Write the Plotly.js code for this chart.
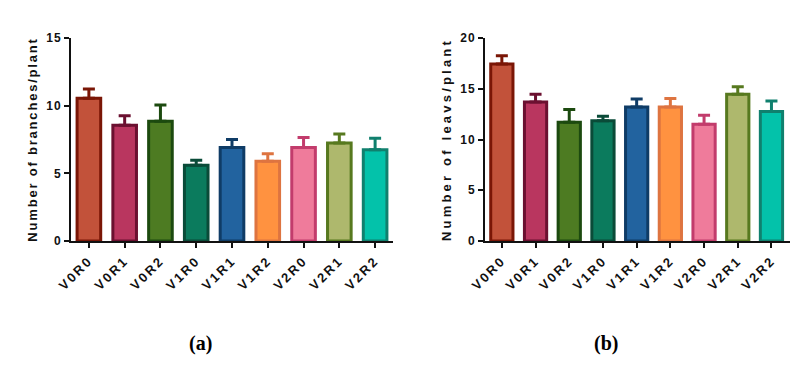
<!DOCTYPE html>
<html>
<head>
<meta charset="utf-8">
<script src="https://cdn.plot.ly/plotly-3.0.1.min.js"></script>
<style>
  html, body { margin: 0; padding: 0; background: #fff; }
  #chart { width: 807px; height: 370px; }
  .ytitle { letter-spacing: 1.8px; }
  .y2title { letter-spacing: 3.2px; }
  .xtick text, .x2tick text { letter-spacing: 2.2px; }
  .ytick text, .y2tick text { letter-spacing: 1px; }
</style>
</head>
<body>
<div id="chart"></div>
<script>
const categories = ["V0R0", "V0R1", "V0R2", "V1R0", "V1R1", "V1R2", "V2R0", "V2R1", "V2R2"];

const branchesMean = [10.55, 8.55, 8.85, 5.6, 6.9, 5.9, 6.9, 7.25, 6.75];
const branchesErr  = [0.68, 0.7, 1.2, 0.37, 0.6, 0.55, 0.75, 0.65, 0.85];

const leavesMean = [17.45, 13.7, 11.7, 11.85, 13.2, 13.2, 11.5, 14.45, 12.75];
const leavesErr  = [0.8, 0.75, 1.25, 0.45, 0.8, 0.85, 0.9, 0.75, 1.05];

const fillColors = ["#C2523A", "#B9365F", "#4D7B22", "#0B7B5D", "#22639F", "#FF9240", "#EF7B9B", "#AEB86D", "#03C2AA"];
const lineColors = ["#7A1606", "#6B1030", "#1C4A0F", "#0A4B38", "#0F3C66", "#DE7440", "#C23C6C", "#57791F", "#10806E"];

const traces = [];
function addSeries(means, errs, xa, ya) {
  categories.forEach((c, i) => {
    traces.push({
      type: "bar",
      x: [c],
      y: [means[i]],
      xaxis: xa,
      yaxis: ya,
      width: 0.66,
      marker: { color: fillColors[i], line: { color: lineColors[i], width: 3 } },
      error_y: {
        type: "data", symmetric: false,
        array: [errs[i]], arrayminus: [0],
        color: lineColors[i], thickness: 3, width: 6
      },
      showlegend: false,
      hoverinfo: "x+y"
    });
  });
}
addSeries(branchesMean, branchesErr, "x", "y");
addSeries(leavesMean, leavesErr, "x2", "y2");

const sans = "Liberation Sans, Arial, sans-serif";
const tickFont = { family: sans, size: 12, color: "#111", weight: 700 };
const xTickFont = { family: sans, size: 13, color: "#111", weight: 700 };
const titleFont = { family: sans, size: 13, color: "#111", weight: 700 };
const serifFont = { family: "'Liberation Serif', 'Times New Roman', serif", size: 20, color: "#000", weight: 700 };

const yTop = 1 - 38 / 370;
const yBot = 1 - 241 / 370;

const commonX = {
  type: "category",
  showline: true, linecolor: "#111", linewidth: 2,
  ticks: "outside", ticklen: 5, tickwidth: 2, tickcolor: "#111",
  tickangle: -45, tickfont: xTickFont,
  showgrid: false, zeroline: false, fixedrange: true,
  range: [-0.5, 8.5]
};
const commonY = {
  showline: true, linecolor: "#111", linewidth: 2,
  ticks: "outside", ticklen: 5, tickwidth: 2, tickcolor: "#111",
  tickfont: tickFont, dtick: 5,
  showgrid: false, zeroline: false, fixedrange: true
};

const layout = {
  width: 807, height: 370,
  margin: { l: 0, r: 0, t: 0, b: 0 },
  paper_bgcolor: "#fff", plot_bgcolor: "#fff",
  barmode: "overlay",
  xaxis: Object.assign({}, commonX, { domain: [71 / 807, 393 / 807], anchor: "y" }),
  yaxis: Object.assign({}, commonY, {
    domain: [yBot, yTop], anchor: "x", range: [0, 15],
    title: { text: "Number of branches/plant", font: titleFont, standoff: 6 }
  }),
  xaxis2: Object.assign({}, commonX, { domain: [485 / 807, 790 / 807], anchor: "y2", range: [-0.5, 8.55] }),
  yaxis2: Object.assign({}, commonY, {
    domain: [yBot, yTop], anchor: "x2", range: [0, 20],
    title: { text: "Number of leavs/plant", font: titleFont, standoff: 6 }
  }),
  annotations: [
    { text: "(a)", x: 200 / 807, y: 1 - 343 / 370, xref: "paper", yref: "paper",
      showarrow: false, xanchor: "center", yanchor: "middle", font: serifFont },
    { text: "(b)", x: 606 / 807, y: 1 - 343 / 370, xref: "paper", yref: "paper",
      showarrow: false, xanchor: "center", yanchor: "middle", font: serifFont }
  ]
};

Plotly.newPlot("chart", traces, layout, { displayModeBar: false, staticPlot: true });
</script>
</body>
</html>
